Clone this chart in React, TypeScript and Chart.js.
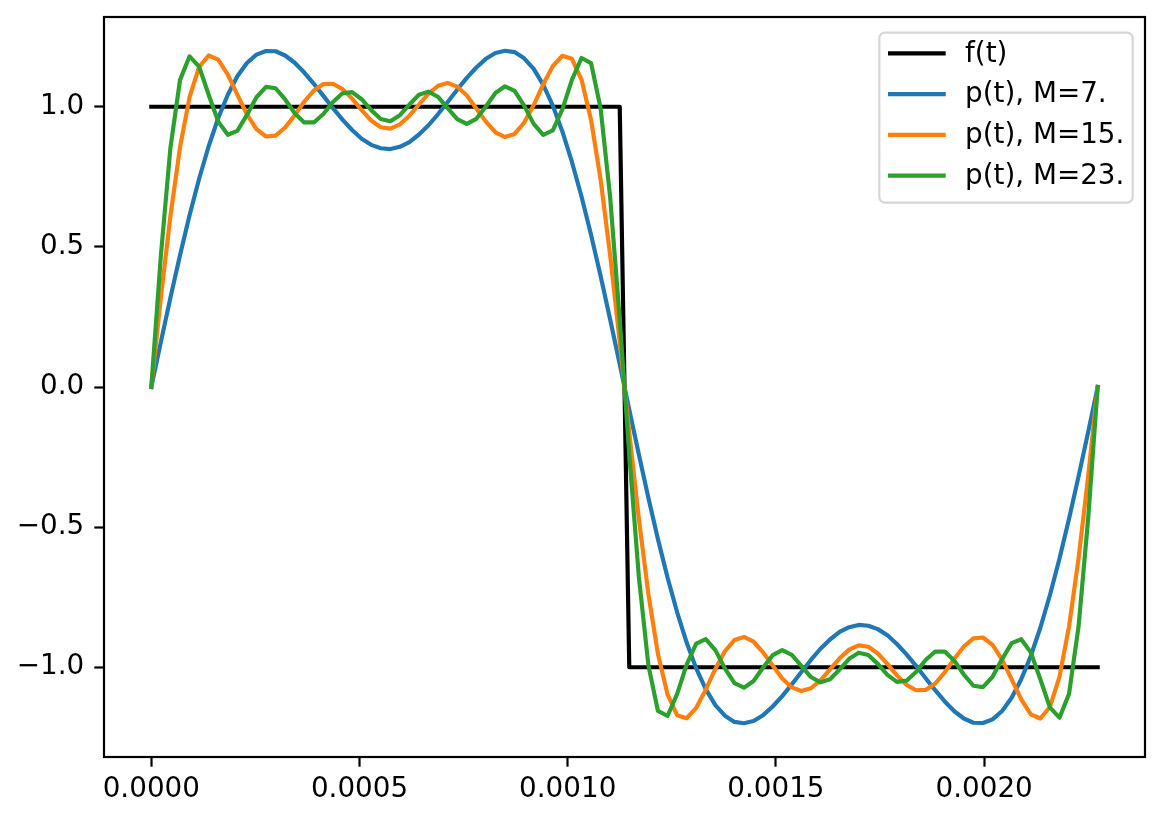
import { useEffect, useRef } from 'react';
import { Chart, registerables } from 'chart.js';

Chart.register(...registerables);

// sample times (s), 100 samples over one period
const tSec = [
  0, 0.0000230, 0.0000459, 0.0000689, 0.0000918, 0.0001148, 0.0001377, 0.0001607, 0.0001837, 0.0002066,
  0.0002296, 0.0002525, 0.0002755, 0.0002984, 0.0003214, 0.0003444, 0.0003673, 0.0003903, 0.0004132, 0.0004362,
  0.0004591, 0.0004821, 0.0005051, 0.0005280, 0.0005510, 0.0005739, 0.0005969, 0.0006198, 0.0006428, 0.0006657,
  0.0006887, 0.0007117, 0.0007346, 0.0007576, 0.0007805, 0.0008035, 0.0008264, 0.0008494, 0.0008724, 0.0008953,
  0.0009183, 0.0009412, 0.0009642, 0.0009871, 0.0010101, 0.0010331, 0.0010560, 0.0010790, 0.0011019, 0.0011249,
  0.0011478, 0.0011708, 0.0011938, 0.0012167, 0.0012397, 0.0012626, 0.0012856, 0.0013085, 0.0013315, 0.0013545,
  0.0013774, 0.0014004, 0.0014233, 0.0014463, 0.0014692, 0.0014922, 0.0015152, 0.0015381, 0.0015611, 0.0015840,
  0.0016070, 0.0016299, 0.0016529, 0.0016758, 0.0016988, 0.0017218, 0.0017447, 0.0017677, 0.0017906, 0.0018136,
  0.0018365, 0.0018595, 0.0018825, 0.0019054, 0.0019284, 0.0019513, 0.0019743, 0.0019972, 0.0020202, 0.0020432,
  0.0020661, 0.0020891, 0.0021120, 0.0021350, 0.0021579, 0.0021809, 0.0022039, 0.0022268, 0.0022498, 0.0022727,
];

const fT = [
  1, 1, 1, 1, 1, 1, 1, 1, 1, 1, 1, 1, 1, 1, 1, 1, 1, 1, 1, 1, 1, 1, 1, 1, 1,
  1, 1, 1, 1, 1, 1, 1, 1, 1, 1, 1, 1, 1, 1, 1, 1, 1, 1, 1, 1, 1, 1, 1, 1, 1,
  -1, -1, -1, -1, -1, -1, -1, -1, -1, -1, -1, -1, -1, -1, -1, -1, -1, -1, -1, -1, -1, -1, -1, -1, -1,
  -1, -1, -1, -1, -1, -1, -1, -1, -1, -1, -1, -1, -1, -1, -1, -1, -1, -1, -1, -1, -1, -1, -1, -1, -1,
];

const pM7 = [
  0, 0.161, 0.319, 0.470, 0.613, 0.743, 0.859, 0.960, 1.043, 1.109,
  1.156, 1.186, 1.199, 1.198, 1.183, 1.157, 1.122, 1.082, 1.039, 0.995,
  0.954, 0.917, 0.886, 0.864, 0.852, 0.849, 0.857, 0.874, 0.901, 0.934,
  0.974, 1.017, 1.061, 1.103, 1.140, 1.171, 1.192, 1.200, 1.195, 1.173,
  1.135, 1.078, 1.004, 0.912, 0.803, 0.680, 0.543, 0.396, 0.241, 0.081,
  -0.081, -0.241, -0.396, -0.543, -0.680, -0.803, -0.912, -1.004, -1.078, -1.135,
  -1.173, -1.195, -1.200, -1.192, -1.171, -1.140, -1.103, -1.061, -1.017, -0.974,
  -0.934, -0.901, -0.874, -0.857, -0.849, -0.852, -0.864, -0.886, -0.917, -0.954,
  -0.995, -1.039, -1.082, -1.122, -1.157, -1.183, -1.198, -1.199, -1.186, -1.156,
  -1.109, -1.043, -0.960, -0.859, -0.743, -0.613, -0.470, -0.319, -0.161, 0,
];

const pM15 = [
  0, 0.319, 0.611, 0.855, 1.034, 1.142, 1.183, 1.168, 1.115, 1.043,
  0.973, 0.920, 0.894, 0.897, 0.926, 0.970, 1.018, 1.058, 1.081, 1.082,
  1.063, 1.029, 0.988, 0.951, 0.927, 0.922, 0.937, 0.968, 1.008, 1.047,
  1.075, 1.085, 1.072, 1.040, 0.994, 0.947, 0.909, 0.892, 0.903, 0.943,
  1.006, 1.080, 1.145, 1.182, 1.171, 1.097, 0.953, 0.740, 0.470, 0.161,
  -0.161, -0.470, -0.740, -0.953, -1.097, -1.171, -1.182, -1.145, -1.080, -1.006,
  -0.943, -0.903, -0.892, -0.909, -0.947, -0.994, -1.040, -1.072, -1.085, -1.075,
  -1.047, -1.008, -0.968, -0.937, -0.922, -0.927, -0.951, -0.988, -1.029, -1.063,
  -1.082, -1.081, -1.058, -1.018, -0.970, -0.926, -0.897, -0.894, -0.920, -0.973,
  -1.043, -1.115, -1.168, -1.183, -1.142, -1.034, -0.855, -0.611, -0.319, 0,
];

const pM23 = [
  0, 0.470, 0.854, 1.095, 1.180, 1.143, 1.043, 0.947, 0.900, 0.914,
  0.971, 1.034, 1.071, 1.066, 1.026, 0.977, 0.944, 0.944, 0.974, 1.017,
  1.048, 1.052, 1.027, 0.988, 0.956, 0.948, 0.970, 1.008, 1.043, 1.054,
  1.035, 0.995, 0.956, 0.939, 0.957, 1.001, 1.049, 1.073, 1.057, 1.004,
  0.939, 0.900, 0.916, 0.991, 1.096, 1.174, 1.156, 0.994, 0.677, 0.241,
  -0.241, -0.677, -0.994, -1.156, -1.174, -1.096, -0.991, -0.916, -0.900, -0.939,
  -1.004, -1.057, -1.073, -1.049, -1.001, -0.957, -0.939, -0.956, -0.995, -1.035,
  -1.054, -1.043, -1.008, -0.970, -0.948, -0.956, -0.988, -1.027, -1.052, -1.048,
  -1.017, -0.974, -0.944, -0.944, -0.977, -1.026, -1.066, -1.071, -1.034, -0.971,
  -0.914, -0.900, -0.947, -1.043, -1.143, -1.180, -1.095, -0.854, -0.470, 0,
];

const seriesLabels = ['f(t)', 'p(t), M=7.', 'p(t), M=15.', 'p(t), M=23.'];
const seriesColors = ['#000000', '#1f77b4', '#ff7f0e', '#2ca02c'];
const xTicks = [0, 0.0005, 0.001, 0.0015, 0.002];
const yTicks = [-1, -0.5, 0, 0.5, 1];

const FONT = "'DejaVu Sans', sans-serif";
const FS = 27.8;
const LW = 4.17;
const SPINE = 2.2;

// black frame + matplotlib-like legend box
const mplPlugin = {
  id: 'mplFrameLegend',
  afterDatasetsDraw(chart: any) {
    const { ctx, chartArea: a } = chart;
    ctx.save();
    ctx.strokeStyle = '#000';
    ctx.lineWidth = SPINE;
    ctx.strokeRect(a.left, a.top, a.right - a.left, a.bottom - a.top);
    ctx.restore();
  },
  afterDraw(chart: any) {
    const { ctx, chartArea: a } = chart;
    const w = 253.4;
    const h = 170;
    const right = a.right - 12.3;
    const top = a.top + 15.7;
    const left = right - w;
    ctx.save();
    ctx.beginPath();
    ctx.roundRect(left, top, w, h, 5.6);
    ctx.fillStyle = 'rgba(255,255,255,0.8)';
    ctx.fill();
    ctx.strokeStyle = 'rgba(204,204,204,0.8)';
    ctx.lineWidth = SPINE;
    ctx.stroke();
    ctx.font = `${FS}px ${FONT}`;
    ctx.textBaseline = 'middle';
    ctx.textAlign = 'left';
    seriesLabels.forEach((lab, k) => {
      const y = top + 20.6 + k * 40.8;
      ctx.beginPath();
      ctx.moveTo(left + 8.7, y);
      ctx.lineTo(left + 66.4, y);
      ctx.strokeStyle = seriesColors[k];
      ctx.lineWidth = LW;
      ctx.lineCap = 'butt';
      ctx.stroke();
      ctx.fillStyle = '#000';
      ctx.fillText(lab, left + 85.7, y + 1);
    });
    ctx.restore();
  },
};

export default function App() {
  const canvasRef = useRef<HTMLCanvasElement>(null);
  const chartRef = useRef<Chart | null>(null);

  useEffect(() => {
    if (!canvasRef.current) return;
    if (chartRef.current) chartRef.current.destroy();

    const all = [fT, pM7, pM15, pM23];
    const tMax = tSec[tSec.length - 1];

    chartRef.current = new Chart(canvasRef.current, {
      type: 'line',
      data: {
        datasets: all.map((ys, k) => ({
          label: seriesLabels[k],
          data: tSec.map((t, i) => ({ x: t, y: ys[i] })),
          borderColor: seriesColors[k],
          borderWidth: LW,
          pointRadius: 0,
          tension: 0,
          fill: false,
          borderJoinStyle: 'round' as const,
          borderCapStyle: 'square' as const,
          order: 4 - k,
        })),
      },
      options: {
        animation: false,
        responsive: true,
        maintainAspectRatio: false,
        layout: { padding: { top: 17, right: 19, left: 0, bottom: 0 } },
        plugins: { legend: { display: false }, tooltip: { enabled: false } },
        scales: {
          x: {
            type: 'linear',
            min: -0.05 * tMax,
            max: 1.05 * tMax,
            afterBuildTicks: (s: any) => {
              s.ticks = xTicks.map((v) => ({ value: v }));
            },
            afterFit: (s: any) => {
              s.height = 65;
              s.paddingLeft = 0;
              s.paddingRight = 0;
            },
            grid: {
              display: true,
              drawOnChartArea: false,
              drawTicks: true,
              tickLength: 9.7,
              tickWidth: SPINE,
              tickColor: '#000',
            },
            border: { display: false },
            ticks: {
              color: '#000',
              font: { family: FONT, size: FS },
              padding: 6,
              maxRotation: 0,
              autoSkip: false,
              callback: (v: any) => Number(v).toFixed(4),
            },
          },
          y: {
            type: 'linear',
            min: -1.3203,
            max: 1.3203,
            afterBuildTicks: (s: any) => {
              s.ticks = yTicks.map((v) => ({ value: v }));
            },
            afterFit: (s: any) => {
              s.width = 104;
              s.paddingTop = 0;
              s.paddingBottom = 0;
            },
            grid: {
              display: true,
              drawOnChartArea: false,
              drawTicks: true,
              tickLength: 9.7,
              tickWidth: SPINE,
              tickColor: '#000',
            },
            border: { display: false },
            ticks: {
              color: '#000',
              font: { family: FONT, size: FS },
              padding: 10,
              callback: (v: any) => Number(v).toFixed(1).replace('-', '\u2212'),
            },
          },
        },
      },
      plugins: [mplPlugin],
    });

    return () => {
      if (chartRef.current) {
        chartRef.current.destroy();
        chartRef.current = null;
      }
    };
  }, []);

  return (
    <>
      <style>{'body{margin:0;background:#fff}'}</style>
      <div style={{ position: 'relative', width: 1164, height: 822 }}>
        <canvas ref={canvasRef} />
      </div>
    </>
  );
}
